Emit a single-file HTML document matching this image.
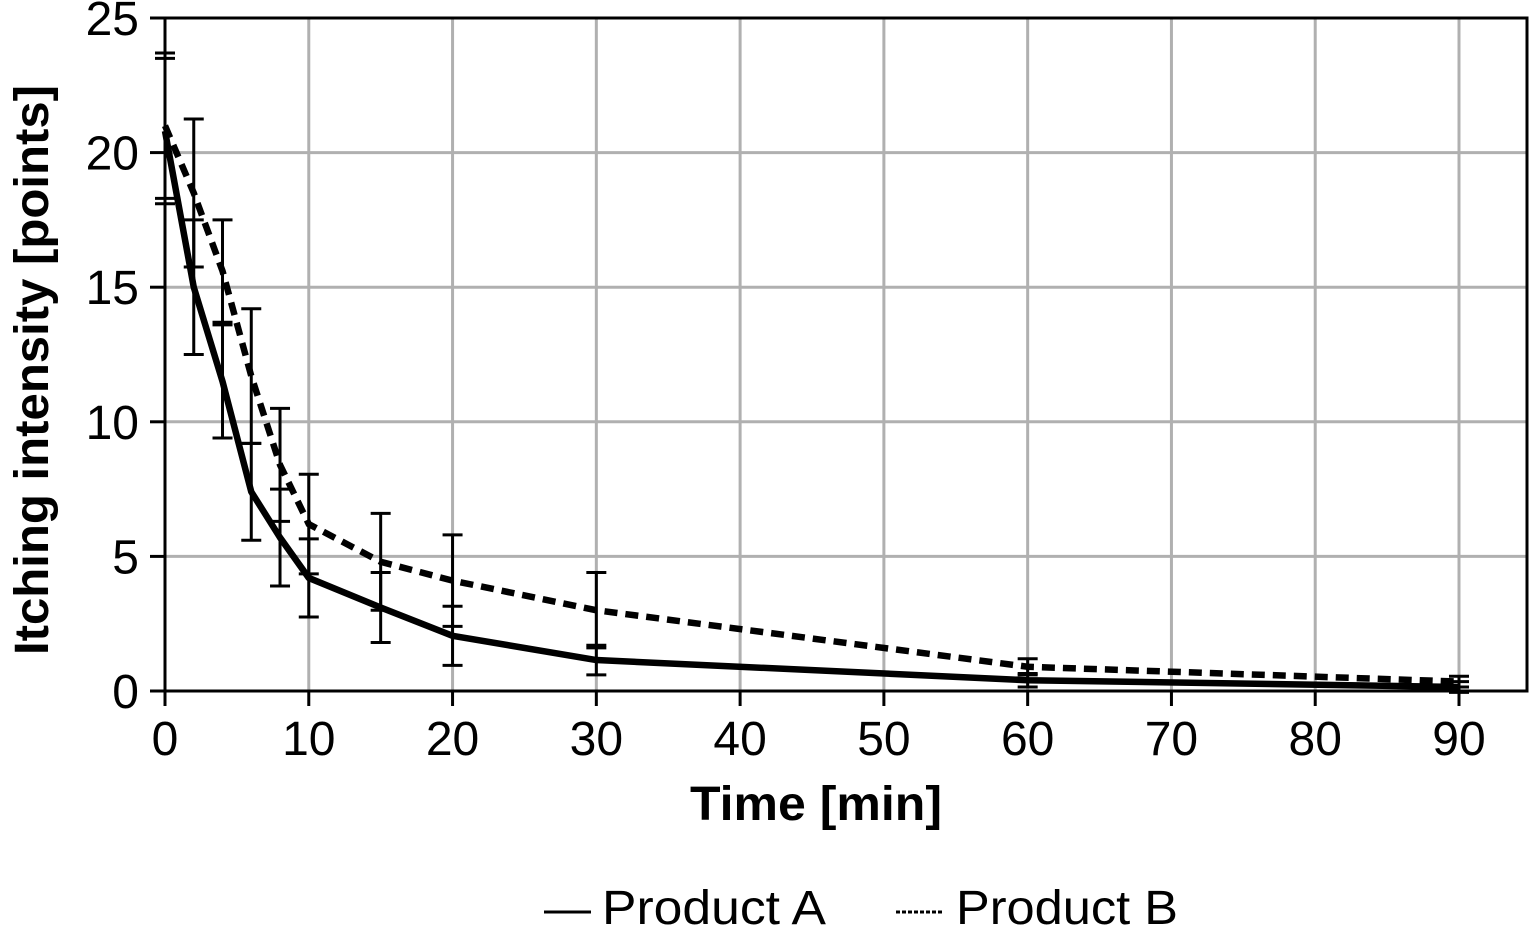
<!DOCTYPE html>
<html><head><meta charset="utf-8"><style>
html,body{margin:0;padding:0;background:#fff;}
svg{display:block;font-family:"Liberation Sans",sans-serif;}
</style></head><body>
<svg id="chart" width="1532" height="925" xmlns="http://www.w3.org/2000/svg"></svg>
<script>
const times=[0,2,4,6,8,10,15,20,30,60,90];
const seriesA=[20.8,15,11.5,7.4,5.7,4.2,3.1,2.05,1.15,0.4,0.15];
const errA=[2.7,2.5,2.1,1.8,1.8,1.45,1.3,1.1,0.55,0.25,0.2];
const seriesB=[21,18.5,15.6,11.7,8.4,6.2,4.8,4.1,3.0,0.9,0.35];
const errB=[2.7,2.75,1.9,2.5,2.1,1.85,1.8,1.7,1.4,0.3,0.2];
const xTicks=[0,10,20,30,40,50,60,70,80,90];
const yTicks=[0,5,10,15,20,25];
const NS="http://www.w3.org/2000/svg";
const svg=document.getElementById('chart');
const L=165,R=1527,T=18,B=691;
const x=v=>L+v*(1459-165)/90;
const y=v=>B-v*(B-T)/25;
function mk(tag,attrs,parent){const e=document.createElementNS(NS,tag);for(const k in attrs)e.setAttribute(k,attrs[k]);(parent||svg).appendChild(e);return e;}
xTicks.forEach(t=>{if(t>0){const g=mk('line',{x1:x(t),x2:x(t),y1:T,y2:B,stroke:'#b0b0b0','stroke-width':3});

}});
yTicks.forEach(t=>{if(t>0){const g=mk('line',{x1:L,x2:R,y1:y(t),y2:y(t),stroke:'#b0b0b0','stroke-width':3});

}});
const fr=mk('rect',{x:L,y:T,width:R-L,height:B-T,fill:'none',stroke:'#000','stroke-width':3});


xTicks.forEach(t=>{mk('line',{x1:x(t),x2:x(t),y1:B,y2:B+15,stroke:'#000','stroke-width':3});
const tx=mk('text',{x:x(t),y:B+64,'text-anchor':'middle','font-size':48});tx.textContent=t;

});
yTicks.forEach(t=>{mk('line',{x1:L-15,x2:L,y1:y(t),y2:y(t),stroke:'#000','stroke-width':3});
const tx=mk('text',{x:L-26,y:y(t)+17,'text-anchor':'end','font-size':48});tx.textContent=t;

});
function bars(vals,errs,name){vals.forEach((v,i)=>{const cx=x(times[i]);const g=mk('g',{stroke:'#000','stroke-width':3});


mk('line',{x1:cx,x2:cx,y1:y(v-errs[i]),y2:y(v+errs[i])},g);
mk('line',{x1:cx-10,x2:cx+10,y1:y(v-errs[i]),y2:y(v-errs[i])},g);
mk('line',{x1:cx-10,x2:cx+10,y1:y(v+errs[i]),y2:y(v+errs[i])},g);});}
bars(seriesA,errA,'error-bar-a');
bars(seriesB,errB,'error-bar-b');
const pA=seriesA.map((v,i)=>x(times[i])+','+y(v)).join(' ');
const la=mk('polyline',{points:pA,fill:'none',stroke:'#000','stroke-width':6.5,'stroke-linejoin':'round'});


const pB=seriesB.map((v,i)=>x(times[i])+','+y(v)).join(' ');
const lb=mk('polyline',{points:pB,fill:'none',stroke:'#000','stroke-width':6.5,'stroke-dasharray':'13 8'});


const xt=mk('text',{x:690,y:820,'font-size':48,'font-weight':'bold',textLength:252,lengthAdjust:'spacingAndGlyphs'});xt.textContent='Time [min]';


const yt=mk('text',{x:0,y:0,'font-size':48,'font-weight':'bold',textLength:570,lengthAdjust:'spacingAndGlyphs',transform:'translate(48,655) rotate(-90)'});yt.textContent='Itching intensity [points]';


const lg=mk('g',{});


mk('line',{x1:544,x2:591,y1:912,y2:912,stroke:'#000','stroke-width':3},lg);
const t1=mk('text',{x:602,y:924,'font-size':48,textLength:224,lengthAdjust:'spacingAndGlyphs'},lg);t1.textContent='Product A';


mk('line',{x1:896,x2:944,y1:912,y2:912,stroke:'#000','stroke-width':3,'stroke-dasharray':'4 2'},lg);
const t2=mk('text',{x:956,y:924,'font-size':48,textLength:222,lengthAdjust:'spacingAndGlyphs'},lg);t2.textContent='Product B';


</script>
</body></html>
